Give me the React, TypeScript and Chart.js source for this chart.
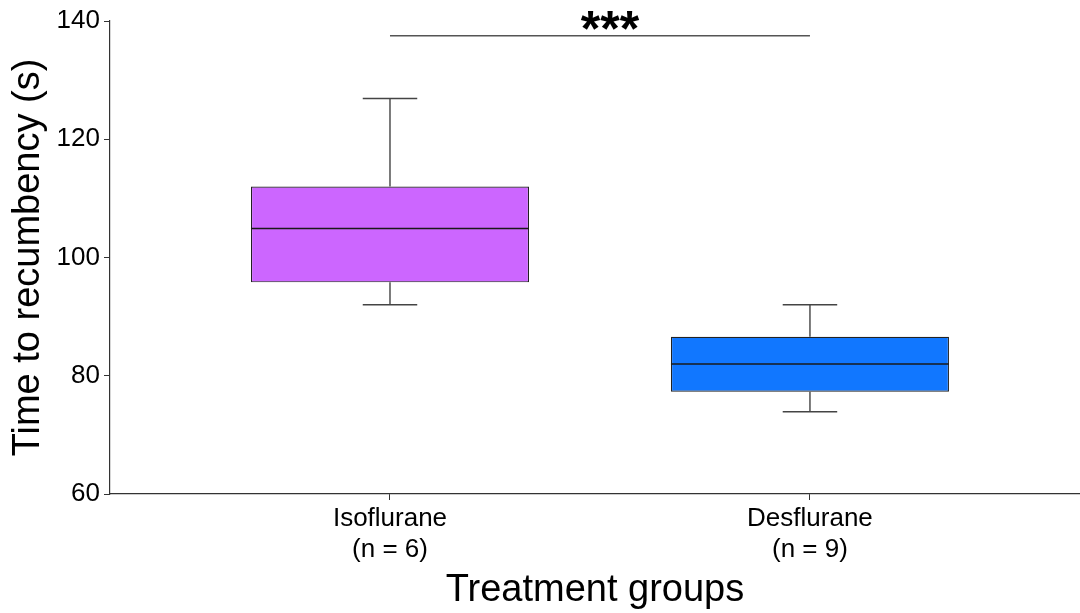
import React, { useEffect, useRef } from 'react';
import { Chart, registerables } from 'chart.js';

Chart.register(...registerables);

// ---- data ----
const categories = ['Isoflurane', 'Desflurane'];
const sampleSizes = [6, 9];
const groupPositions = [1, 2];
const minValues = [92, 73.9];
const q1Values = [95.8, 77.3];
const medianValues = [104.9, 82];
const q3Values = [112, 86.6];
const maxValues = [126.9, 92];
const boxColors = ['#CC66FF', '#1177FF'];
const yTicks = [60, 80, 100, 120, 140];
const sigPair = [1, 2];
const sigLevel = 137.5;
const sigLabel = '***';

const FONT = "'Liberation Sans', Arial, Helvetica, sans-serif";

const boxPlugin = {
  id: 'boxWhiskers',
  afterDatasetsDraw(chart: any) {
    const { ctx, scales } = chart;
    const xs = scales.x;
    const ys = scales.y;
    const meta = chart.getDatasetMeta(0);
    ctx.save();
    meta.data.forEach((bar: any, i: number) => {
      const { x: cx, width } = bar.getProps(['x', 'width'], true);
      const half = width / 2;
      const capHalf = width * 0.098;
      const yMin = ys.getPixelForValue(minValues[i]);
      const yQ1 = ys.getPixelForValue(q1Values[i]);
      const yMed = ys.getPixelForValue(medianValues[i]);
      const yQ3 = ys.getPixelForValue(q3Values[i]);
      const yMax = ys.getPixelForValue(maxValues[i]);
      // whiskers
      ctx.strokeStyle = '#444';
      ctx.lineWidth = 1.4;
      ctx.beginPath();
      ctx.moveTo(cx, yQ3);
      ctx.lineTo(cx, yMax);
      ctx.moveTo(cx - capHalf, yMax);
      ctx.lineTo(cx + capHalf, yMax);
      ctx.moveTo(cx, yQ1);
      ctx.lineTo(cx, yMin);
      ctx.moveTo(cx - capHalf, yMin);
      ctx.lineTo(cx + capHalf, yMin);
      ctx.stroke();
      // median
      ctx.strokeStyle = '#1a1a1a';
      ctx.lineWidth = 1.4;
      ctx.beginPath();
      ctx.moveTo(cx - half, yMed);
      ctx.lineTo(cx + half, yMed);
      ctx.stroke();
    });
    // significance bracket
    const x1 = xs.getPixelForValue(sigPair[0]);
    const x2 = xs.getPixelForValue(sigPair[1]);
    const yl = ys.getPixelForValue(sigLevel);
    ctx.strokeStyle = '#555';
    ctx.lineWidth = 1.4;
    ctx.beginPath();
    ctx.moveTo(x1, yl);
    ctx.lineTo(x2, yl);
    ctx.stroke();
    ctx.fillStyle = '#000';
    ctx.font = `bold 50px ${FONT}`;
    ctx.textAlign = 'center';
    ctx.textBaseline = 'alphabetic';
    ctx.fillText(sigLabel, (x1 + x2) / 2 + 10, yl + 10.5);
    ctx.restore();
  },
};

export default function App() {
  const ref = useRef<HTMLCanvasElement | null>(null);

  useEffect(() => {
    if (!ref.current) return;
    const chart = new Chart(ref.current, {
      type: 'bar',
      data: {
        datasets: [
          {
            data: groupPositions.map((p, i) => ({ x: p, y: [q1Values[i], q3Values[i]] })) as any,
            backgroundColor: boxColors,
            borderColor: '#222',
            borderWidth: 1.2,
            borderSkipped: false,
            categoryPercentage: 1,
            barPercentage: 0.662,
          } as any,
        ],
      },
      options: {
        responsive: false,
        animation: false,
        devicePixelRatio: 1,
        layout: { padding: { top: 21, left: 0, right: 0, bottom: 0 } },
        plugins: {
          legend: { display: false },
          tooltip: { enabled: false },
        },
        scales: {
          x: {
            type: 'linear',
            min: 0.3333,
            max: 2.643,
            offset: false,
            afterBuildTicks: (scale: any) => {
              scale.ticks = groupPositions.map((v) => ({ value: v }));
            },
            afterFit: (scale: any) => {
              scale.height = 119;
            },
            ticks: {
              color: '#000',
              font: { size: 26, family: FONT },
              padding: 3,
              autoSkip: false,
              maxRotation: 0,
              callback: (value: any) => {
                const i = groupPositions.indexOf(Number(value));
                return i >= 0 ? [categories[i], `(n = ${sampleSizes[i]})`] : '';
              },
            },
            grid: {
              display: true,
              drawOnChartArea: false,
              drawTicks: true,
              tickLength: 6,
              color: '#333',
              offset: false,
            },
            border: { display: true, color: '#333', width: 1.2 },
            title: {
              display: true,
              text: 'Treatment groups',
              color: '#000',
              font: { size: 38, family: FONT },
              padding: { top: 0, bottom: 0 },
            },
          } as any,
          y: {
            type: 'linear',
            min: 60,
            max: 140,
            beginAtZero: false,
            afterBuildTicks: (scale: any) => {
              scale.ticks = yTicks.map((v) => ({ value: v }));
            },
            afterFit: (scale: any) => {
              scale.width = 110;
            },
            ticks: {
              color: '#000',
              font: { size: 26, family: FONT },
              padding: 4,
            },
            grid: {
              display: true,
              drawOnChartArea: false,
              drawTicks: true,
              tickLength: 6,
              color: '#333',
            },
            border: { display: true, color: '#333', width: 1.2 },
            title: {
              display: true,
              text: 'Time to recumbency (s)',
              color: '#000',
              font: { size: 38, family: FONT },
              padding: { top: 6, bottom: 0 },
              align: 'center',
            },
          } as any,
        },
      },
      plugins: [boxPlugin],
    });
    return () => chart.destroy();
  }, []);

  return (
    <div style={{ position: 'absolute', left: 0, top: 0, width: 1080, height: 613, background: '#fff' }}>
      <canvas ref={ref} width={1080} height={613} style={{ display: 'block' }} />
    </div>
  );
}
